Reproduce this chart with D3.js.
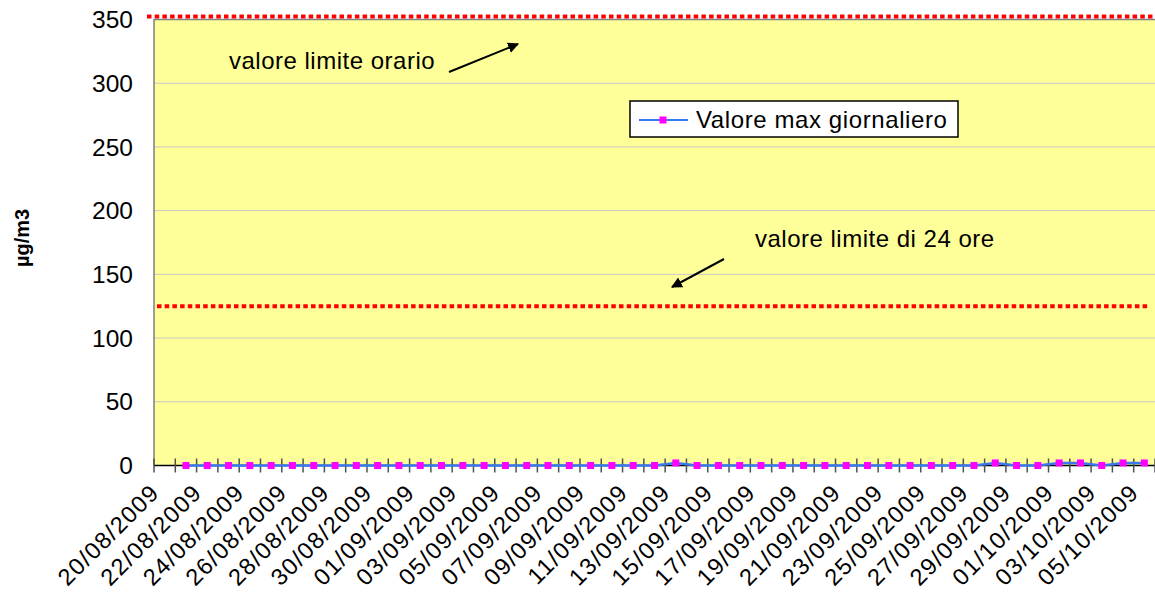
<!DOCTYPE html>
<html>
<head>
<meta charset="utf-8">
<script src="https://cdn.jsdelivr.net/npm/d3@7"></script>
<style>
  html, body { margin: 0; padding: 0; background: #ffffff; }
  svg { display: block; font-family: "Liberation Sans", Arial, sans-serif; }
</style>
</head>
<body>
<svg id="chart" width="1155" height="601"></svg>
<script>
const categories = [
  "20/08/2009","21/08/2009","22/08/2009","23/08/2009","24/08/2009","25/08/2009","26/08/2009","27/08/2009",
  "28/08/2009","29/08/2009","30/08/2009","31/08/2009","01/09/2009","02/09/2009","03/09/2009","04/09/2009",
  "05/09/2009","06/09/2009","07/09/2009","08/09/2009","09/09/2009","10/09/2009","11/09/2009","12/09/2009",
  "13/09/2009","14/09/2009","15/09/2009","16/09/2009","17/09/2009","18/09/2009","19/09/2009","20/09/2009",
  "21/09/2009","22/09/2009","23/09/2009","24/09/2009","25/09/2009","26/09/2009","27/09/2009","28/09/2009",
  "29/09/2009","30/09/2009","01/10/2009","02/10/2009","03/10/2009","04/10/2009","05/10/2009"
];
const maxDaily = [
  null, 0, 0, 0, 0, 0, 0, 0,
  0, 0, 0, 0, 0, 0, 0, 0,
  0, 0, 0, 0, 0, 0, 0, 0,
  2, 0, 0, 0, 0, 0, 0, 0,
  0, 0, 0, 0, 0, 0, 0, 2,
  0, 0, 2, 2, 0, 2, 2
];
const seriesName = "Valore max giornaliero";
const yTicks = [0, 50, 100, 150, 200, 250, 300, 350];
const limitHourly = 350;
const limitDaily = 125;
const annotations = ["valore limite orario", "valore limite di 24 ore"];
const yTitle = "µg/m3";

const svg = d3.select("#chart");
const plot = { left: 154, right: 1155, top: 19.5, bottom: 465.5 };

const x = d3.scaleBand().domain(categories).range([plot.left, plot.right]).padding(0);
const y = d3.scaleLinear().domain([0, 350]).range([plot.bottom, plot.top]);
const cx = c => x(c) + x.bandwidth() / 2;

// plot background
svg.append("rect")
  .attr("x", plot.left).attr("y", plot.top)
  .attr("width", plot.right - plot.left).attr("height", plot.bottom - plot.top)
  .attr("fill", "#FFFF99");

// gridlines
svg.append("g").selectAll("line").data(yTicks.filter(t => t > 0 && t < 350)).join("line")
  .attr("x1", plot.left).attr("x2", plot.right)
  .attr("y1", d => y(d)).attr("y2", d => y(d))
  .attr("stroke", "#c8c8c8").attr("stroke-width", 1);

// plot border (left/top)
svg.append("path")
  .attr("d", `M${plot.left},${plot.bottom}V${plot.top}H${plot.right}`)
  .attr("fill", "none").attr("stroke", "#808080").attr("stroke-width", 1.5);

// y tick labels
svg.append("g").selectAll("text").data(yTicks).join("text")
  .attr("x", 133).attr("y", d => y(d))
  .attr("dy", "0.35em")
  .attr("text-anchor", "end")
  .attr("font-size", 24.5).attr("fill", "#000")
  .text(d => d);

// y title
svg.append("text")
  .attr("transform", `translate(29,238) rotate(-90)`)
  .attr("text-anchor", "middle")
  .attr("font-size", 20).attr("font-weight", "bold")
  .text(yTitle);

// limit lines
svg.append("line")
  .attr("x1", 147).attr("x2", plot.right)
  .attr("y1", y(limitHourly) - 3).attr("y2", y(limitHourly) - 3)
  .attr("stroke", "#FF0000").attr("stroke-width", 4).attr("stroke-dasharray", "4.5,3.2");
svg.append("line")
  .attr("x1", 157).attr("x2", 1148)
  .attr("y1", y(limitDaily)).attr("y2", y(limitDaily))
  .attr("stroke", "#FF0000").attr("stroke-width", 4).attr("stroke-dasharray", "4.5,3.2");

// x axis line
svg.append("line")
  .attr("x1", plot.left).attr("x2", plot.right)
  .attr("y1", plot.bottom).attr("y2", plot.bottom)
  .attr("stroke", "#000").attr("stroke-width", 1.5);

// x ticks at category boundaries
const bounds = categories.map(c => x(c)).concat([plot.right]);
svg.append("g").selectAll("line").data(bounds).join("line")
  .attr("x1", d => d).attr("x2", d => d)
  .attr("y1", plot.bottom - 7).attr("y2", plot.bottom + 7)
  .attr("stroke", "#505050").attr("stroke-width", 1.5);

// x labels every other category
svg.append("g").selectAll("text").data(categories.filter((c, i) => i % 2 === 0)).join("text")
  .attr("transform", c => `translate(${cx(c) - 4},494) rotate(-45)`)
  .attr("text-anchor", "end")
  .attr("font-size", 23.5).attr("letter-spacing", 1.4).attr("fill", "#000")
  .text(c => c);

// series line
const pts = categories.map((c, i) => ({ c, v: maxDaily[i] }));
const line = d3.line().defined(d => d.v != null).x(d => cx(d.c)).y(d => y(d.v));
svg.append("path").datum(pts)
  .attr("d", line)
  .attr("fill", "none").attr("stroke", "#3a78f0").attr("stroke-width", 2.5);

// markers
const ms = 7;
svg.append("g").selectAll("rect").data(pts.filter(d => d.v != null)).join("rect")
  .attr("x", d => cx(d.c) - ms / 2).attr("y", d => y(d.v) - ms / 2)
  .attr("width", ms).attr("height", ms)
  .attr("fill", "#FF00FF");

// annotations
svg.append("text").attr("x", 229).attr("y", 69).attr("font-size", 24).attr("letter-spacing", 0.5).text(annotations[0]);
svg.append("text").attr("x", 755).attr("y", 247).attr("font-size", 24).attr("letter-spacing", 0.5).text(annotations[1]);

// arrows
const defs = svg.append("defs");
defs.append("marker").attr("id", "arrow")
  .attr("viewBox", "0 0 10 10").attr("refX", 9).attr("refY", 5)
  .attr("markerWidth", 5.5).attr("markerHeight", 5.5).attr("orient", "auto")
  .append("path").attr("d", "M0,0L10,5L0,10z").attr("fill", "#000");
svg.append("line").attr("x1", 449).attr("y1", 72).attr("x2", 518).attr("y2", 44)
  .attr("stroke", "#000").attr("stroke-width", 2).attr("marker-end", "url(#arrow)");
svg.append("line").attr("x1", 724).attr("y1", 259).attr("x2", 672).attr("y2", 287)
  .attr("stroke", "#000").attr("stroke-width", 2).attr("marker-end", "url(#arrow)");

// legend
const lg = svg.append("g");
lg.append("rect").attr("x", 630).attr("y", 101).attr("width", 328).attr("height", 36)
  .attr("fill", "#fff").attr("stroke", "#000").attr("stroke-width", 1.5);
lg.append("line").attr("x1", 639).attr("x2", 688).attr("y1", 120).attr("y2", 120)
  .attr("stroke", "#3a78f0").attr("stroke-width", 2);
lg.append("rect").attr("x", 663 - ms / 2).attr("y", 120 - ms / 2).attr("width", ms).attr("height", ms)
  .attr("fill", "#FF00FF");
lg.append("text").attr("x", 696).attr("y", 128).attr("font-size", 24).attr("letter-spacing", 0.6).text(seriesName);
</script>
</body>
</html>
